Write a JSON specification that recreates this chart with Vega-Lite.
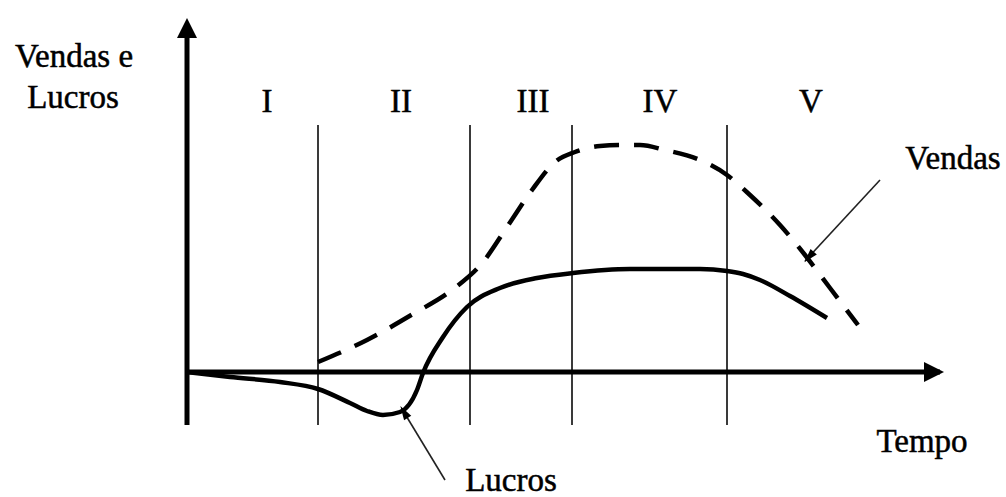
{
  "$schema": "https://vega.github.io/schema/vega-lite/v6.json",
  "width": 1006,
  "height": 497,
  "autosize": "none",
  "padding": 0,
  "background": "white",
  "config": {"view": {"stroke": null}},
  "datasets": {
    "vendas": [
      {"t": 13.1, "v": 1.0}, {"t": 18.0, "v": 3.2}, {"t": 22.6, "v": 5.8}, {"t": 26.5, "v": 8.2},
      {"t": 29.6, "v": 11.0}, {"t": 32.0, "v": 14.5}, {"t": 34.5, "v": 18.2}, {"t": 36.8, "v": 21.0},
      {"t": 38.8, "v": 22.0}, {"t": 41.3, "v": 22.6}, {"t": 43.3, "v": 22.7}, {"t": 45.3, "v": 22.7},
      {"t": 47.8, "v": 22.2}, {"t": 51.3, "v": 21.2}, {"t": 54.0, "v": 19.7}, {"t": 56.3, "v": 17.7},
      {"t": 59.3, "v": 14.7}, {"t": 61.8, "v": 11.7}, {"t": 64.3, "v": 8.4}, {"t": 67.1, "v": 4.7}
    ],
    "lucros": [
      {"t": 0, "v": 0}, {"t": 4.3, "v": -0.5}, {"t": 9.3, "v": -1.0}, {"t": 13.1, "v": -1.7},
      {"t": 16.3, "v": -3.1}, {"t": 18.0, "v": -3.9}, {"t": 19.6, "v": -4.3}, {"t": 21.3, "v": -4.0},
      {"t": 23.0, "v": -1.8}, {"t": 23.6, "v": -0.1}, {"t": 25.6, "v": 3.5}, {"t": 28.0, "v": 6.5},
      {"t": 31.3, "v": 8.4}, {"t": 35.0, "v": 9.4}, {"t": 38.6, "v": 9.9}, {"t": 44.3, "v": 10.3},
      {"t": 51.3, "v": 10.3}, {"t": 54.0, "v": 10.1}, {"t": 55.6, "v": 9.8}, {"t": 57.3, "v": 9.2},
      {"t": 60.3, "v": 7.6}, {"t": 64.0, "v": 5.4}
    ],
    "eixos": [
      {"t": 0, "v": -5.3, "t2": 0, "v2": 33.5},
      {"t": 0, "v": 0, "t2": 75.3, "v2": 0}
    ],
    "fases": [
      {"t": 13.1, "v": -5.3, "v2": 24.7},
      {"t": 28.3, "v": -5.3, "v2": 24.7},
      {"t": 38.5, "v": -5.3, "v2": 24.7},
      {"t": 54.0, "v": -5.3, "v2": 24.7}
    ],
    "setas": [
      {"t": 69.3, "v": 19.2, "t2": 61.8, "v2": 11.1},
      {"t": 25.8, "v": -10.8, "t2": 21.5, "v2": -3.7}
    ],
    "textos": [
      {"t": -11.3, "v": 31.5, "label": "Vendas e"},
      {"t": -11.4, "v": 27.4, "label": "Lucros"},
      {"t": 8.0, "v": 27.0, "label": "I"},
      {"t": 21.4, "v": 27.0, "label": "II"},
      {"t": 34.6, "v": 27.0, "label": "III"},
      {"t": 47.3, "v": 27.0, "label": "IV"},
      {"t": 62.4, "v": 27.0, "label": "V"},
      {"t": 76.6, "v": 21.3, "label": "Vendas"},
      {"t": 73.5, "v": -7.0, "label": "Tempo"},
      {"t": 32.4, "v": -10.9, "label": "Lucros"}
    ]
  },
  "encoding": {
    "x": {"field": "t", "type": "quantitative", "scale": {"domain": [-18.7, 81.9], "nice": false, "zero": false}, "axis": null},
    "y": {"field": "v", "type": "quantitative", "scale": {"domain": [-12.5, 37.2], "nice": false, "zero": false}, "axis": null}
  },
  "layer": [
    {
      "data": {"name": "fases"},
      "mark": {"type": "rule", "color": "#3a3a3a", "strokeWidth": 2},
      "encoding": {"y2": {"field": "v2"}}
    },
    {
      "data": {"name": "eixos"},
      "mark": {"type": "rule", "color": "black", "strokeWidth": 5},
      "encoding": {"x2": {"field": "t2"}, "y2": {"field": "v2"}}
    },
    {
      "data": {"values": [{"t": 0, "v": 34.4}]},
      "mark": {"type": "point", "filled": true, "color": "black", "opacity": 1, "size": 400, "shape": "M0,-1L1,1L-1,1Z"}
    },
    {
      "data": {"values": [{"t": 74.7, "v": 0}]},
      "mark": {"type": "point", "filled": true, "color": "black", "opacity": 1, "size": 400, "shape": "M1,0L-1,-1L-1,1Z"}
    },
    {
      "data": {"name": "vendas"},
      "mark": {"type": "line", "color": "black", "strokeWidth": 4.5, "strokeDash": [25, 15], "interpolate": "monotone"}
    },
    {
      "data": {"name": "lucros"},
      "mark": {"type": "line", "color": "black", "strokeWidth": 4.5, "interpolate": "monotone"}
    },
    {
      "data": {"name": "setas"},
      "mark": {"type": "rule", "color": "#222222", "strokeWidth": 1.6},
      "encoding": {"x2": {"field": "t2"}, "y2": {"field": "v2"}}
    },
    {
      "data": {"values": [{"t": 62.2, "v": 11.5}]},
      "mark": {"type": "point", "filled": true, "color": "black", "opacity": 1, "size": 196, "shape": "M0,-1L0.6,1L-0.6,1Z", "angle": 222}
    },
    {
      "data": {"values": [{"t": 21.7, "v": -4.0}]},
      "mark": {"type": "point", "filled": true, "color": "black", "opacity": 1, "size": 196, "shape": "M0,-1L0.6,1L-0.6,1Z", "angle": 328.6}
    },
    {
      "data": {"name": "textos"},
      "mark": {"type": "text", "font": "Liberation Serif", "fontSize": 33, "color": "black", "stroke": "black", "strokeWidth": 0.5, "align": "center", "baseline": "middle"},
      "encoding": {"text": {"field": "label"}}
    }
  ]
}
